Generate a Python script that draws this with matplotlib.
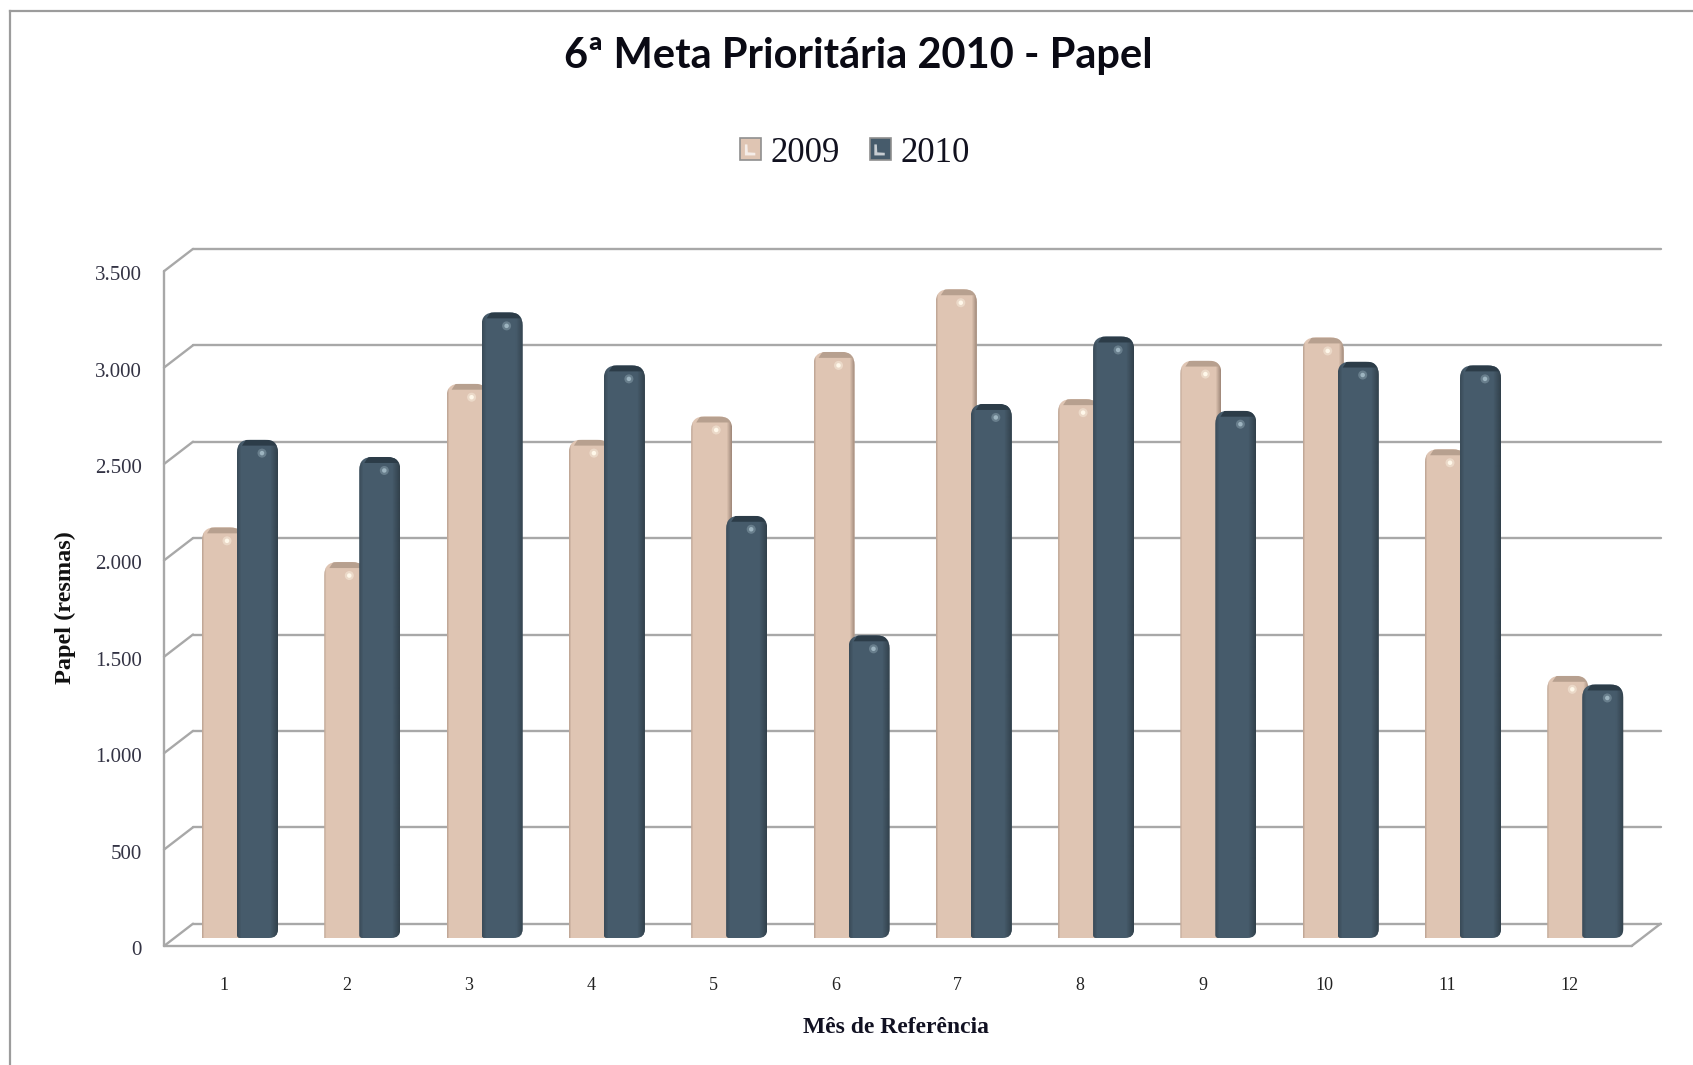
import numpy as np
import matplotlib
matplotlib.use('Agg')
import matplotlib.pyplot as plt
from matplotlib.lines import Line2D
from matplotlib.patches import PathPatch, Patch, Rectangle, Polygon, Ellipse
from matplotlib.path import Path
from matplotlib.legend_handler import HandlerPatch
from matplotlib.transforms import ScaledTranslation

# data
months = ['1', '2', '3', '4', '5', '6', '7', '8', '9', '10', '11', '12']
papel_2009 = [2130, 1950, 2875, 2585, 2705, 3040, 3365, 2795, 2995, 3115, 2535, 1360]
papel_2010 = [2585, 2495, 3245, 2970, 2190, 1570, 2770, 3120, 2735, 2990, 2970, 1315]
y_ticks = [0, 500, 1000, 1500, 2000, 2500, 3000, 3500]
y_labels = ['0', '500', '1.000', '1.500', '2.000', '2.500', '3.000', '3.500']

W, H = 1693, 1065
PINK = '#dfc5b3'
DARK = '#465b6b'
GRID = '#a8a8a8'
FRAME = '#9c9c9c'
SERIF = 'Liberation Serif'

fig = plt.figure(figsize=(W / 100, H / 100), dpi=100, facecolor='white')

# bars plane in pixels: x 178.85..1646.45, y 938 (0) .. 263.2 (3500)
ax = fig.add_axes([178.85 / W, 1 - 938 / H, 1467.6 / W, 674.8 / H])
ax.set_xlim(0.5, 12.5)
ax.set_ylim(0, 3500)
ax.patch.set_alpha(0)
for s in ax.spines.values():
    s.set_visible(False)

PX = 1 / 122.3      # one pixel in x data units
PY = 3500 / 674.8   # one pixel in y data units


# walls of the fake 3d box
def wall_lines():
    bx, by = 14.15 * PX, 14.3 * PY
    fx, fy = -14.85 * PX, -8 * PY
    kw = dict(color=GRID, lw=1.7, clip_on=False, zorder=1, solid_capstyle='round')
    for v in y_ticks:
        ax.plot([0.5 + bx, 12.5 + bx], [v + by, v + by], **kw)
        ax.plot([0.5 + fx, 0.5 + bx], [v + fy, v + by], **kw)
    ax.plot([0.5 + fx, 0.5 + fx], [fy, 3500 + fy], **kw)
    ax.plot([0.5 + fx, 12.5 + fx], [fy, fy], **kw)
    ax.plot([12.5 + fx, 12.5 + bx], [fy, by], **kw)


# outline with its own corner radius (in pixels) at each corner
def bar_outline(x0, x1, h, top, bl, br):
    t = top
    verts = [(x0 + bl * PX, 0), (x1 - br * PX, 0), (x1, 0), (x1, br * PY),
             (x1, h - t * PY), (x1, h), (x1 - t * PX, h),
             (x0 + t * PX, h), (x0, h), (x0, h - t * PY),
             (x0, bl * PY), (x0, 0), (x0 + bl * PX, 0)]
    codes = [Path.MOVETO, Path.LINETO, Path.CURVE3, Path.CURVE3,
             Path.LINETO, Path.CURVE3, Path.CURVE3,
             Path.LINETO, Path.CURVE3, Path.CURVE3,
             Path.LINETO, Path.CURVE3, Path.CURVE3]
    return Path(verts, codes)


def shade_bar(bar, st, z):
    x0, w, h = bar.get_x(), bar.get_width(), bar.get_height()
    clip = PathPatch(bar_outline(x0, x0 + w, h, 13, st['bl'], st['br']), fc='none', ec='none',
                     transform=ax.transData)
    ax.add_patch(clip)
    bar.set_clip_path(clip)
    # side shading, cylinder look
    n = 41
    img = np.zeros((1, n, 4))
    img[0, :, :3] = matplotlib.colors.to_rgb(st['edge'])
    t = np.linspace(0, 1, n)
    img[0, :, 3] = np.clip((t - st['right']) / (1 - st['right']), 0, 1) * st['ra'] \
        + np.clip((st['left'] - t) / st['left'], 0, 1) * st['la']
    im = ax.imshow(img, extent=(x0, x0 + w, 0, h), aspect='auto', zorder=z,
                   interpolation='bilinear')
    im.set_clip_path(clip)
    # top cap
    cap = Polygon([(x0 + 9 * PX, h), (x0 + w - 5 * PX, h), (x0 + w - 2 * PX, h - 6 * PY),
                   (x0 + 5 * PX, h - 6 * PY)], fc=st['cap'], ec='none', zorder=z + 0.01)
    ax.add_patch(cap)
    cap.set_clip_path(clip)
    # highlight dot
    cx, cy = x0 + 25 * PX, h - 13.5 * PY
    ax.add_patch(Ellipse((cx, cy), 9 * PX, 9 * PY, fc=st['dot'], ec='none', alpha=0.4, zorder=z + 0.02))
    ax.add_patch(Ellipse((cx, cy), 4.5 * PX, 4.5 * PY, fc=st['dot'], ec='none', zorder=z + 0.03))


pink_style = dict(edge='#9c8576', right=0.88, ra=0.9, left=0.05, la=0.45, cap='#b7a08f',
                  dot='#fff8ea', bl=0, br=0)
dark_style = dict(edge='#2f3d47', right=0.82, ra=0.85, left=0.10, la=0.5, cap='#2c3c48',
                  dot='#9db4c0', bl=3, br=9)

wall_lines()

x = np.arange(1, len(months) + 1)
offset = 17.5 * PX
width = 41 * PX
bars_a = ax.bar(x - offset, papel_2009, width, color=PINK, zorder=3, label='2009')
bars_b = ax.bar(x + offset, papel_2010, width, color=DARK, zorder=5, label='2010')
for b in bars_a:
    shade_bar(b, pink_style, 3.5)
for b in bars_b:
    shade_bar(b, dark_style, 5.5)
ax.set_xlim(0.5, 12.5)
ax.set_ylim(0, 3500)

# ticks sit on the front wall, not on the bars plane
ax.set_xticks(x, months, family=SERIF, fontsize=13, color='#222222', va='center')
ax.set_yticks(y_ticks, y_labels, family=SERIF, fontsize=15, color='#333344', va='center')
ax.tick_params(axis='x', length=0, pad=0)
ax.tick_params(axis='y', length=0, pad=26.5)
off_x = ScaledTranslation(-16 / 100, -48 / 100, fig.dpi_scale_trans)
off_y = ScaledTranslation(0, -12.5 / 100, fig.dpi_scale_trans)
for lab in ax.get_xticklabels():
    lab.set_transform(lab.get_transform() + off_x)
for lab in ax.get_yticklabels():
    lab.set_transform(lab.get_transform() + off_y)

ax.set_xlabel('Mês de Referência', family=SERIF, fontweight='bold', fontsize=17, color='#111122')
ax.xaxis.set_label_coords(0.4887, -0.1165)
ax.set_ylabel('Papel (resmas)', family=SERIF, fontweight='bold', fontsize=17.5, color='#111111')
ax.yaxis.set_label_coords(-0.0700, 0.489)

fig.text(858 / W, 1 - 56 / H, '6ª Meta Prioritária 2010 - Papel', family='Lato', fontweight='bold',
         fontsize=30, ha='center', va='center', color='#0a0a14')


class SquareHandler(HandlerPatch):
    def create_artists(self, legend, orig, xd, yd, w, h, fontsize, trans):
        sq = Rectangle((-xd, -yd), w, h, fc=orig.get_facecolor(), ec='#8f8f8f', lw=1.2, transform=trans)
        x0, y0 = -xd + w * 0.22, -yd + h * 0.22
        mark = Polygon([(x0, y0), (x0 + w * 0.5, y0), (x0 + w * 0.5, y0 + h * 0.12),
                        (x0 + w * 0.14, y0 + h * 0.14), (x0 + w * 0.12, y0 + h * 0.5), (x0, y0 + h * 0.5)],
                       fc='white', ec='none', alpha=0.7, transform=trans)
        return [sq, mark]


handles = [Patch(fc=PINK, label='2009'), Patch(fc=DARK, label='2010')]
leg = fig.legend(handles=handles, ncol=2, loc='center', bbox_to_anchor=(855 / W, 1 - 153 / H),
                 frameon=False, prop={'family': SERIF, 'size': 25}, handlelength=0.6,
                 handleheight=0.6, handletextpad=0.28, columnspacing=0.85,
                 handler_map={Patch: SquareHandler()}, labelcolor='#11111f')

# outer frame of the chart, only top and left show
fig.add_artist(Line2D([10 / W, 1], [1 - 10.5 / H, 1 - 10.5 / H], color=FRAME, lw=1.6))
fig.add_artist(Line2D([10 / W, 10 / W], [0, 1 - 10.5 / H], color=FRAME, lw=1.6))

fig.savefig('out.png', dpi=100, facecolor='white')
